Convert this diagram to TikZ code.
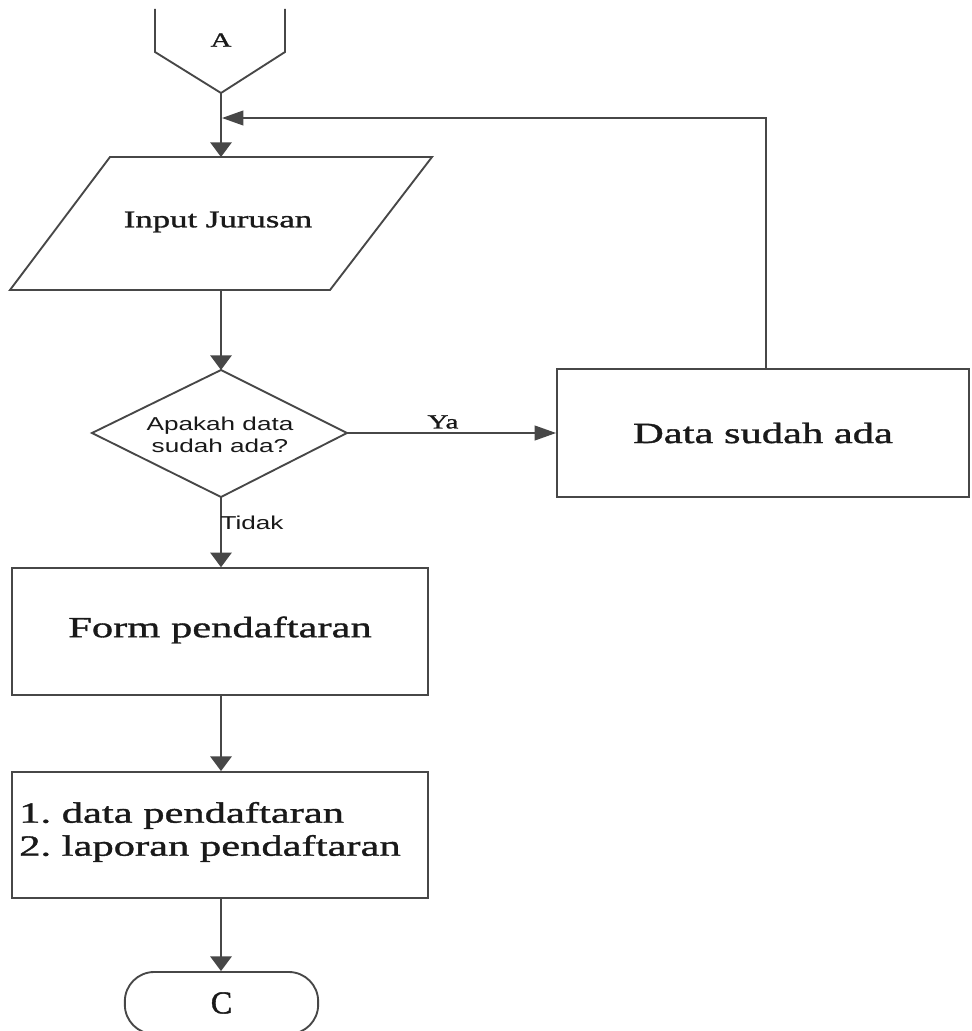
\documentclass[tikz,border=0pt]{standalone}
\usepackage{fontspec}
\setmainfont{Liberation Serif}
\newfontfamily\wser[FakeStretch=1.45,FakeBold=1.2]{Liberation Serif}
\newfontfamily\cser[FakeBold=1.2]{Liberation Serif}
\newfontfamily\wsans[FakeStretch=1.4]{Liberation Sans}
\usetikzlibrary{arrows.meta}
\tikzset{
  ln/.style={draw=black!72, line width=1.4pt},
  varr/.style={ln, -{Triangle[length=11pt,width=16pt]}},
  harr/.style={ln, -{Triangle[length=16pt,width=11pt]}},
  box/.style={ln, rectangle, inner sep=0pt},
  txt/.style={inner sep=0pt, text=black!90},
}
\begin{document}
\begin{tikzpicture}[x=0.75pt, y=-0.75pt]
\useasboundingbox[fill=white] (0,0) rectangle (971,1031);

% off-page connector A
\draw[ln] (155,9) -- (155,52) -- (221,93) -- (285,52) -- (285,9);
\node[txt, font=\wser\fontsize{15}{18}\selectfont] (A) at (221,40) {A};
\coordinate (Atip) at (221,93);

% input parallelogram
\draw[ln] (110,157) -- (432,157) -- (330,290) -- (10,290) -- cycle;
\node[txt, font=\wser\fontsize{18}{22}\selectfont] (inp) at (218,222) {Input Jurusan};
\coordinate (inTop) at (221,157);
\coordinate (inBot) at (221,290);

% decision diamond
\draw[ln] (92,433) -- (221,370) -- (347,433) -- (221,497) -- cycle;
\node[txt, align=center, font=\wsans\fontsize{14}{16.5}\selectfont] (q) at (220,435) {Apakah data\\ sudah ada?};
\coordinate (dTop) at (221,370);
\coordinate (dRight) at (347,433);
\coordinate (dBot) at (221,497);

% Data sudah ada box
\node[box, minimum width=309pt, minimum height=96pt] (data) at (763,433) {};
\node[txt, font=\wser\fontsize{22}{26}\selectfont] (datat) at (763,433) {Data sudah ada};

% Form box
\node[box, minimum width=312pt, minimum height=95pt] (form) at (220,631.5) {};
\node[txt, font=\wser\fontsize{22}{26}\selectfont] (formt) at (220,630) {Form pendaftaran};

% output box
\node[box, minimum width=312pt, minimum height=94.5pt] (out) at (220,835) {};
\node[txt, anchor=west, align=left, font=\wser\fontsize{22}{24.75}\selectfont] (outt) at (19,832) {1.\ data pendaftaran\\ 2.\ laporan pendaftaran};

% terminal C
\node[ln, rectangle, rounded corners=22pt, minimum width=145pt, minimum height=46.5pt, inner sep=0pt] (C) at (221.5,1003) {};
\node[txt, font=\cser\fontsize{24}{28}\selectfont] (Ct) at (221.5,1003) {C};

% connectors
\draw[varr] (Atip) -- (inTop);
\coordinate (fbTop) at (766,118);
\coordinate (join) at (222,118);
\draw[harr] (data.north -| fbTop) -- (fbTop) -- (join);
\draw[varr] (inBot) -- (dTop);
\draw[harr] (dRight) -- (data.west);
\node[txt, font=\wser\fontsize{15}{18}\selectfont] (ya) at (443,422) {Ya};
\draw[varr] (dBot) -- (form.north -| dBot);
\node[txt, font=\wsans\fontsize{14}{16}\selectfont] (tidak) at (252,523) {Tidak};
\draw[varr] (form.south -| dBot) -- (out.north -| dBot);
\draw[varr] (out.south -| dBot) -- (C.north -| dBot);
\end{tikzpicture}
\end{document}
